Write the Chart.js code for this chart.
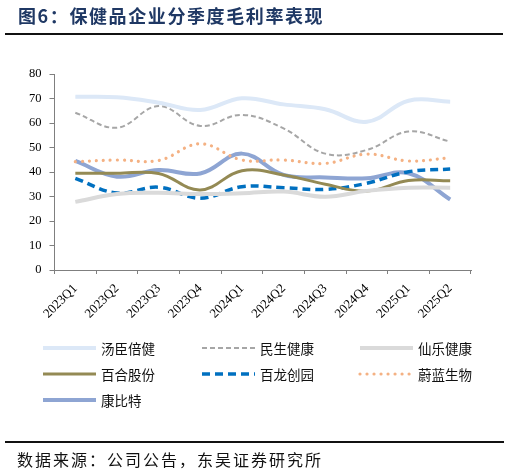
<!DOCTYPE html>
<html>
<head>
<meta charset="utf-8">
<script src="https://cdn.jsdelivr.net/npm/chart.js@4/dist/chart.umd.min.js"></script>
<style>
  html, body { margin:0; padding:0; background:#fff; }
  #wrap { position:relative; width:509px; height:476px; overflow:hidden; }
  #chartBox { position:absolute; left:0; top:0; width:509px; height:476px; }
  #title { position:absolute; left:18px; top:3px; font-family:"Noto Sans CJK SC", sans-serif; font-weight:bold; font-size:18px; letter-spacing:1.6px; color:#1f3864; white-space:nowrap; line-height:24px; }
  #topRule { position:absolute; left:5px; top:33px; width:498px; height:2px; background:#111; }
  #bottomRule { position:absolute; left:5px; top:441px; width:499px; height:2px; background:#111; }
  #source { position:absolute; left:17px; top:448px; font-family:"Noto Sans CJK SC", sans-serif; font-size:16px; letter-spacing:2px; color:#111; white-space:nowrap; line-height:22px; }
  #warm { position:absolute; left:-1000px; top:0; font-family:"Liberation Serif"; font-size:12px; }
</style>
</head>
<body>
<div id="wrap">
  <div id="chartBox"><canvas id="c"></canvas></div>
  <div id="title">图6：保健品企业分季度毛利率表现</div>
  <div id="topRule"></div>
  <div id="bottomRule"></div>
  <div id="source">数据来源：公司公告，东吴证券研究所</div>
</div>
<span id="warm">2023Q1 0123456789</span>
<script>
const categories = ['2023Q1','2023Q2','2023Q3','2023Q4','2024Q1','2024Q2','2024Q3','2024Q4','2025Q1','2025Q2'];
const seriesNames = ['汤臣倍健','民生健康','仙乐健康','百合股份','百龙创园','蔚蓝生物','康比特'];
const tangchen = [70.7, 70.5, 68.3, 65.3, 70.1, 67.6, 65.6, 60.5, 69.1, 68.7];
const minsheng = [64.2, 58.1, 66.9, 58.8, 63.3, 57.8, 47.5, 49.0, 56.5, 52.4];
const xianle   = [27.8, 31.0, 31.5, 31.0, 31.3, 32.0, 29.9, 32.3, 33.6, 33.6];
const baihe    = [39.5, 39.5, 39.4, 32.7, 40.5, 38.8, 35.0, 32.2, 36.5, 36.4];
const bailong  = [37.4, 31.4, 33.8, 29.3, 34.0, 33.6, 32.9, 35.4, 40.1, 41.2];
const weilan   = [44.2, 44.9, 44.7, 51.5, 44.9, 44.9, 43.5, 47.3, 44.5, 45.8];
const kangbite = [44.5, 38.1, 40.8, 39.4, 47.5, 38.8, 37.8, 37.4, 39.5, 28.8];
const yTickMin = 0, yTickMax = 80, yTickStep = 10;

const styles = [
  { color:'#dce8f7', width:4,   dash:[],        cap:'butt' },
  { color:'#a6a6a6', width:2,   dash:[5,3],     cap:'butt' },
  { color:'#dadada', width:4,   dash:[],        cap:'butt' },
  { color:'#948a54', width:3,   dash:[],        cap:'butt' },
  { color:'#0070c0', width:3.5, dash:[8,5],     cap:'butt' },
  { color:'#f4b183', width:3.2, dash:[0.01,7],  cap:'round' },
  { color:'#8ea5d3', width:4,   dash:[],        cap:'butt' }
];
const values = [tangchen, minsheng, xianle, baihe, bailong, weilan, kangbite];

const datasets = values.map((v, i) => ({
  label: seriesNames[i],
  data: v,
  borderColor: styles[i].color,
  backgroundColor: styles[i].color,
  borderWidth: styles[i].width,
  borderDash: styles[i].dash,
  borderCapStyle: styles[i].cap,
  pointRadius: 0,
  pointHoverRadius: 0,
  tension: 0.4,
  fill: false
}));

const serif = '"Liberation Serif", "DejaVu Serif", serif';

const legendPlugin = {
  id: 'gridLegend',
  afterDraw(chart) {
    const ctx = chart.ctx;
    const colX = [43, 202, 360];
    const rowY = [348, 374, 400];
    chart.data.datasets.forEach((ds, i) => {
      const x = colX[i % 3], y = rowY[Math.floor(i / 3)];
      ctx.save();
      ctx.strokeStyle = ds.borderColor;
      ctx.lineWidth = ds.borderWidth;
      ctx.lineCap = ds.borderCapStyle;
      ctx.setLineDash(ds.borderDash);
      ctx.beginPath();
      ctx.moveTo(x, y);
      ctx.lineTo(x + 53, y);
      ctx.stroke();
      ctx.setLineDash([]);
      ctx.fillStyle = '#111';
      ctx.font = '13.5px "Noto Sans CJK SC", sans-serif';
      ctx.textBaseline = 'middle';
      ctx.textAlign = 'left';
      ctx.fillText(ds.label, x + 58, y + 1);
      ctx.restore();
    });
  }
};

function draw() {
  new Chart(document.getElementById('c'), {
    type: 'line',
    data: { labels: categories, datasets },
    options: {
      responsive: true,
      maintainAspectRatio: false,
      animation: false,
      layout: { padding: { top: 74, left: 0, right: 38, bottom: 0 } },
      plugins: { legend: { display: false }, tooltip: { enabled: false }, title: { display: false } },
      scales: {
        x: {
          type: 'category',
          offset: true,
          afterFit: s => { s.height = 206; },
          grid: { offset: true, drawOnChartArea: false, drawTicks: true, tickLength: 4, color: '#7f7f7f' },
          border: { color: '#7f7f7f', width: 1 },
          ticks: { maxRotation: 45, minRotation: 45, autoSkip: false, padding: 7, color: '#000', font: { family: serif, size: 13 } }
        },
        y: {
          min: yTickMin, max: yTickMax,
          afterFit: s => { s.width = 54.5; },
          grid: { drawOnChartArea: false, drawTicks: true, tickLength: 5, color: '#7f7f7f' },
          border: { color: '#7f7f7f', width: 1 },
          ticks: { stepSize: yTickStep, padding: 8, color: '#000', font: { family: serif, size: 12.5 } }
        }
      }
    },
    plugins: [legendPlugin]
  });
}
if (document.fonts && document.fonts.load) {
  Promise.all([
    document.fonts.load('12px "Liberation Serif"'),
    document.fonts.load('13px "Noto Sans CJK SC"')
  ]).then(draw, draw);
} else { draw(); }
</script>
</body>
</html>
